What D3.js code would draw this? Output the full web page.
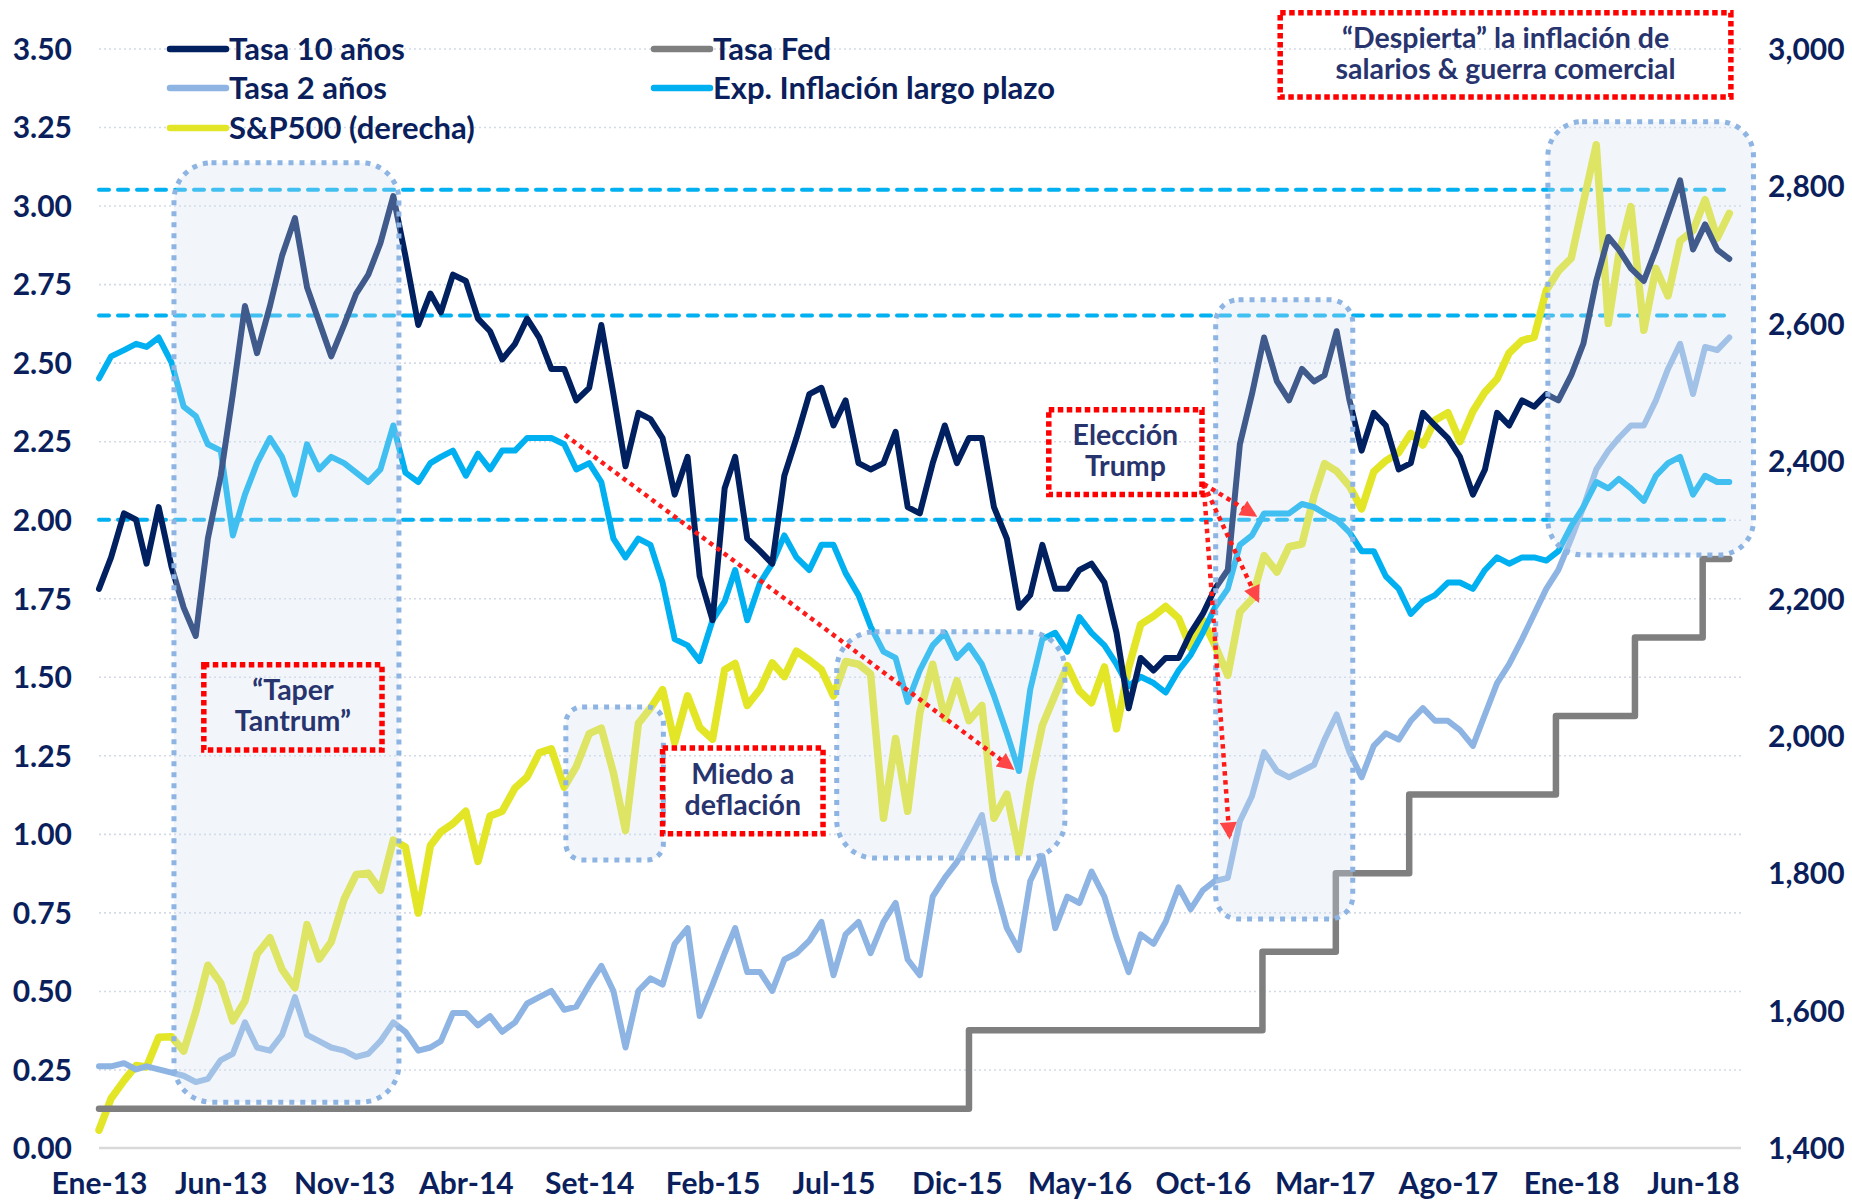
<!DOCTYPE html>
<html>
<head>
<meta charset="utf-8">
<script src="https://cdn.jsdelivr.net/npm/d3@7"></script>
<style>
  body { margin: 0; background: #fff; }
  svg { display: block; font-family: Lato, "Open Sans", sans-serif; }
</style>
</head>
<body>
<svg id="chart" width="1852" height="1202"></svg>
<script>
// sampling dates: 1st and 16th of every month, Jan-2013 .. Jul-2018
const months = d3.timeMonths(new Date(2013, 0, 1), new Date(2018, 7, 1));
const dates = d3.merge(months.map(d => [d, new Date(d.getFullYear(), d.getMonth(), 16)]));

// Tasa 10 años (%)
const tasa10 = [
  1.78,1.88, 2.02,2.00, 1.86,2.04, 1.85,1.72, 1.63,1.94, 2.14,2.40, 2.68,2.53, 2.68,2.84, 2.96,2.74, 2.63,2.52, 2.62,2.72, 2.78,2.88,
  3.03,2.84, 2.62,2.72, 2.66,2.78, 2.76,2.64, 2.60,2.51, 2.56,2.64, 2.58,2.48, 2.48,2.38, 2.42,2.62, 2.40,2.17, 2.34,2.32, 2.26,2.08,
  2.20,1.82, 1.68,2.10, 2.20,1.94, 1.90,1.86, 2.14,2.26, 2.40,2.42, 2.30,2.38, 2.18,2.16, 2.18,2.28, 2.04,2.02, 2.18,2.30, 2.18,2.26,
  2.26,2.04, 1.94,1.72, 1.76,1.92, 1.78,1.78, 1.84,1.86, 1.80,1.64, 1.40,1.56, 1.52,1.56, 1.56,1.64, 1.70,1.78, 1.84,2.24, 2.40,2.58,
  2.44,2.38, 2.48,2.44, 2.46,2.60, 2.38,2.22, 2.34,2.30, 2.16,2.18, 2.34,2.30, 2.26,2.20, 2.08,2.16, 2.34,2.30, 2.38,2.36, 2.40,2.38,
  2.46,2.56, 2.76,2.90, 2.86,2.80, 2.76,2.86, 2.97,3.08, 2.86,2.94, 2.86,2.83
];

// Tasa 2 años (%)
const tasa2 = [
  0.26,0.26, 0.27,0.25, 0.26,0.25, 0.24,0.23, 0.21,0.22, 0.28,0.30, 0.40,0.32, 0.31,0.36, 0.48,0.36, 0.34,0.32, 0.31,0.29, 0.30,0.34,
  0.40,0.37, 0.31,0.32, 0.34,0.43, 0.43,0.39, 0.42,0.37, 0.40,0.46, 0.48,0.50, 0.44,0.45, 0.52,0.58, 0.50,0.32, 0.50,0.54, 0.52,0.65,
  0.70,0.42, 0.52,0.62, 0.70,0.56, 0.56,0.50, 0.60,0.62, 0.66,0.72, 0.55,0.68, 0.72,0.62, 0.72,0.78, 0.60,0.55, 0.80,0.86, 0.91,0.98,
  1.06,0.85, 0.70,0.63, 0.85,0.93, 0.70,0.80, 0.78,0.88, 0.80,0.67, 0.56,0.68, 0.65,0.72, 0.83,0.76, 0.82,0.85, 0.86,1.04, 1.12,1.26,
  1.20,1.18, 1.20,1.22, 1.30,1.38, 1.26,1.18, 1.28,1.32, 1.30,1.36, 1.40,1.36, 1.36,1.33, 1.28,1.38, 1.48,1.54, 1.62,1.70, 1.78,1.84,
  1.94,2.04, 2.16,2.22, 2.26,2.30, 2.30,2.38, 2.48,2.56, 2.40,2.55, 2.54,2.58
];

// Exp. Inflación largo plazo (%)
const inflacion = [
  2.45,2.52, 2.54,2.56, 2.55,2.58, 2.50,2.36, 2.33,2.24, 2.22,1.95, 2.08,2.18, 2.26,2.20, 2.08,2.24, 2.16,2.20, 2.18,2.15, 2.12,2.16,
  2.30,2.15, 2.12,2.18, 2.20,2.22, 2.14,2.21, 2.16,2.22, 2.22,2.26, 2.26,2.26, 2.24,2.16, 2.18,2.12, 1.94,1.88, 1.94,1.92, 1.80,1.62,
  1.60,1.55, 1.68,1.74, 1.84,1.68, 1.80,1.86, 1.95,1.88, 1.84,1.92, 1.92,1.83, 1.76,1.66, 1.58,1.56, 1.42,1.52, 1.60,1.64, 1.56,1.60,
  1.54,1.44, 1.32,1.20, 1.46,1.62, 1.64,1.58, 1.69,1.64, 1.60,1.54, 1.47,1.50, 1.48,1.45, 1.52,1.57, 1.64,1.72, 1.78,1.92, 1.95,2.02,
  2.02,2.02, 2.05,2.04, 2.02,2.00, 1.96,1.90, 1.90,1.82, 1.78,1.70, 1.74,1.76, 1.80,1.80, 1.78,1.84, 1.88,1.86, 1.88,1.88, 1.87,1.90,
  1.98,2.04, 2.12,2.10, 2.13,2.10, 2.06,2.14, 2.18,2.20, 2.08,2.14, 2.12,2.12
];

// S&P500 (eje derecho)
const sp500 = [
  1426,1472, 1498,1520, 1518,1561, 1562,1541, 1598,1666, 1640,1585, 1614,1682, 1706,1660, 1633,1725, 1675,1700, 1762,1798, 1800,1775,
  1848,1838, 1742,1840, 1860,1872, 1890,1817, 1883,1890, 1924,1940, 1975,1981, 1925,1955, 2003,2011, 1946,1862, 2018,2040, 2067,1990,
  2058,2012, 1995,2096, 2105,2044, 2068,2106, 2086,2123, 2110,2096, 2058,2108, 2104,2090, 1880,1996, 1890,2033, 2104,2025, 2080,2022,
  2044,1880, 1915,1829, 1932,2015, 2060,2102, 2065,2048, 2100,2010, 2099,2162, 2174,2188, 2171,2128, 2168,2132, 2088,2180, 2199,2262,
  2238,2275, 2279,2349, 2396,2385, 2363,2330, 2384,2400, 2412,2440, 2423,2459, 2470,2428, 2472,2500, 2519,2557, 2575,2580, 2648,2676,
  2695,2776, 2860,2600, 2700,2770, 2590,2680, 2640,2720, 2735,2780, 2724,2760
];

// Tasa Fed (punto medio del rango objetivo)
const fedDates = ["2013-01-01", "2015-12-16", "2016-12-14", "2017-03-15", "2017-06-14", "2017-12-13", "2018-03-21", "2018-06-13", "2018-07-16"];
const fedValues = [0.125, 0.375, 0.625, 0.875, 1.125, 1.375, 1.625, 1.875, 1.875];

// horizontal reference levels
const refLevels = [3.05, 2.65, 2.00];

// tick labels
const leftTicks = d3.range(0, 3.51, 0.25);
const rightTicks = d3.range(1400, 3001, 200);
const xLabels = ["Ene-13", "Jun-13", "Nov-13", "Abr-14", "Set-14", "Feb-15", "Jul-15", "Dic-15", "May-16", "Oct-16", "Mar-17", "Ago-17", "Ene-18", "Jun-18"];
const xTicks = xLabels.map((d, i) => new Date(2013, i * 5, 1));

const parse = d3.timeParse("%Y-%m-%d");

const svg = d3.select("#chart");
const textColor = "#0a1f5c";
const noteColor = "#28346e";

const plotLeft = 99, plotRight = 1741;
const x = d3.scaleTime().domain([new Date(2013, 0, 1), new Date(2018, 5, 1)]).range([99, 1693]);
const yL = d3.scaleLinear().domain([0, 3.5]).range([1148, 48.5]);
const yR = d3.scaleLinear().domain([1400, 3000]).range([1148, 48.5]);

// gridlines
svg.append("g")
  .attr("transform", `translate(${plotLeft},0)`)
  .call(d3.axisLeft(yL).tickValues(leftTicks.slice(1)).tickSize(-(plotRight - plotLeft)).tickFormat(""))
  .call(g => g.select(".domain").remove())
  .call(g => g.selectAll("line")
    .attr("stroke", "#d3dae6").attr("stroke-width", 1.6).attr("stroke-dasharray", "2,3"));

svg.append("line")
  .attr("x1", plotLeft).attr("x2", plotRight)
  .attr("y1", yL(0)).attr("y2", yL(0))
  .attr("stroke", "#d9d9d9").attr("stroke-width", 2.5);

// dashed reference levels
svg.append("g").selectAll("line")
  .data(refLevels)
  .join("line")
  .attr("x1", x(dates[0])).attr("x2", x(dates[dates.length - 1]) - 5)
  .attr("y1", d => yL(d)).attr("y2", d => yL(d))
  .attr("stroke", "#00b0f0").attr("stroke-width", 4)
  .attr("stroke-dasharray", "10,9").attr("stroke-linecap", "round");

// series
const lineL = d3.line().x((d, i) => x(dates[i])).y(d => yL(d));
const lineR = d3.line().x((d, i) => x(dates[i])).y(d => yR(d));
const lineFed = d3.line().curve(d3.curveStepAfter).x((d, i) => x(parse(fedDates[i]))).y(d => yL(d));

const series = [
  { values: sp500, gen: lineR, color: "#e2e626", width: 7.5 },
  { values: tasa2, gen: lineL, color: "#8db4e2", width: 6 },
  { values: fedValues, gen: lineFed, color: "#7f7f7f", width: 6.5 },
  { values: inflacion, gen: lineL, color: "#00b0f0", width: 6 },
  { values: tasa10, gen: lineL, color: "#002060", width: 6 }
];

svg.append("g").selectAll("path")
  .data(series)
  .join("path")
  .attr("fill", "none")
  .attr("stroke", d => d.color)
  .attr("stroke-width", d => d.width)
  .attr("stroke-linejoin", "round")
  .attr("stroke-linecap", "round")
  .attr("d", d => d.gen(d.values));

// highlighted periods (translucent rounded boxes over the lines)
const highlights = [
  { from: "2013-04-04", to: "2014-01-08", top: 3.136, bottom: 0.146 },
  { from: "2014-08-03", to: "2014-12-02", top: 1.404, bottom: 0.917 },
  { from: "2015-07-05", to: "2016-04-13", top: 1.643, bottom: 0.923 },
  { from: "2016-10-17", to: "2017-04-05", top: 2.700, bottom: 0.729 },
  { from: "2017-12-03", to: "2018-08-15", top: 3.267, bottom: 1.888 }
];

svg.append("g").selectAll("rect")
  .data(highlights)
  .join("rect")
  .each(function (d) {
    const x0 = x(parse(d.from)), x1 = x(parse(d.to));
    const y0 = yL(d.top), y1 = yL(d.bottom);
    const r = Math.min(x1 - x0, y1 - y0) * 0.1667;
    d3.select(this)
      .attr("x", x0).attr("y", y0)
      .attr("width", x1 - x0).attr("height", y1 - y0)
      .attr("rx", r).attr("ry", r);
  })
  .attr("fill", "rgba(213,225,242,0.3)")
  .attr("stroke", "#8db4e2")
  .attr("stroke-width", 5)
  .attr("stroke-dasharray", "5,6");

// arrows
const defs = svg.append("defs");
defs.append("marker")
  .attr("id", "arrowhead")
  .attr("viewBox", "0 0 10 10")
  .attr("refX", 8).attr("refY", 5)
  .attr("markerWidth", 20).attr("markerHeight", 17)
  .attr("markerUnits", "userSpaceOnUse")
  .attr("orient", "auto")
  .append("path")
  .attr("d", "M0,0L10,5L0,10Z")
  .attr("fill", "#ff4545");

const arrows = [
  { from: ["2014-08-02", 2.27], to: ["2016-02-07", 1.21] },
  { from: ["2016-10-02", 2.114], to: ["2016-12-04", 2.015] },
  { from: ["2016-10-02", 2.114], to: ["2016-12-08", 1.745] },
  { from: ["2016-10-02", 2.114], to: ["2016-11-03", 0.993] }
];

svg.append("g").selectAll("line")
  .data(arrows)
  .join("line")
  .attr("x1", d => x(parse(d.from[0]))).attr("y1", d => yL(d.from[1]))
  .attr("x2", d => x(parse(d.to[0]))).attr("y2", d => yL(d.to[1]))
  .attr("stroke", "#ff1a1a").attr("stroke-width", 4.5)
  .attr("stroke-dasharray", "4.5,4.5")
  .attr("marker-end", "url(#arrowhead)");

// annotation boxes
const notes = [
  { from: "2013-05-11", to: "2013-12-18", top: 1.538, bottom: 1.267, lines: ["\u201CTaper", "Tantrum\u201D"] },
  { from: "2014-12-01", to: "2015-06-18", top: 1.273, bottom: 1.000, lines: ["Miedo a", "deflación"] },
  { from: "2016-03-24", to: "2016-09-30", top: 2.350, bottom: 2.080, lines: ["Elección", "Trump"] },
  { from: "2017-01-05", to: "2018-07-18", top: 3.614, bottom: 3.346, lines: ["\u201CDespierta\u201D la inflación de", "salarios & guerra comercial"] }
];

const noteG = svg.append("g").selectAll("g")
  .data(notes)
  .join("g");

noteG.append("rect")
  .attr("x", d => x(parse(d.from)))
  .attr("y", d => yL(d.top))
  .attr("width", d => x(parse(d.to)) - x(parse(d.from)))
  .attr("height", d => yL(d.bottom) - yL(d.top))
  .attr("fill", "none")
  .attr("stroke", "#ff0000")
  .attr("stroke-width", 5.5)
  .attr("stroke-dasharray", "5.5,3.5");

noteG.append("text")
  .attr("text-anchor", "middle")
  .attr("fill", noteColor)
  .attr("font-size", 28.5)
  .attr("font-weight", 700)
  .each(function (d) {
    const cx = (x(parse(d.from)) + x(parse(d.to))) / 2;
    const cy = (yL(d.top) + yL(d.bottom)) / 2;
    d3.select(this).selectAll("tspan")
      .data(d.lines)
      .join("tspan")
      .attr("x", cx)
      .attr("y", (t, i) => cy - 7 + i * 31)
      .text(t => t);
  });

// axes
const styleAxis = g => {
  g.select(".domain").remove();
  g.attr("font-family", null).attr("font-size", null);
  g.selectAll("text")
    .attr("fill", textColor)
    .style("font-size", "30px")
    .style("font-weight", "700");
};

svg.append("g")
  .attr("transform", "translate(72,0)")
  .call(d3.axisLeft(yL).tickValues(leftTicks).tickFormat(d3.format(".2f")).tickSize(0).tickPadding(0))
  .call(styleAxis)
  .call(g => g.selectAll("text").attr("dy", "0.36em"));

svg.append("g")
  .attr("transform", "translate(1768,0)")
  .call(d3.axisRight(yR).tickValues(rightTicks).tickFormat(d3.format(",")).tickSize(0).tickPadding(0))
  .call(styleAxis)
  .call(g => g.selectAll("text").attr("dy", "0.36em"));

svg.append("g")
  .attr("transform", "translate(0,1173)")
  .call(d3.axisBottom(x).tickValues(xTicks).tickFormat((d, i) => xLabels[i]).tickSize(0).tickPadding(0))
  .call(styleAxis);

// legend
const legend = [
  { name: "Tasa 10 años", color: "#002060", lx: 170, ly: 49 },
  { name: "Tasa 2 años", color: "#8db4e2", lx: 170, ly: 88 },
  { name: "S&P500 (derecha)", color: "#e2e626", lx: 170, ly: 128 },
  { name: "Tasa Fed", color: "#7f7f7f", lx: 654, ly: 49 },
  { name: "Exp. Inflación largo plazo", color: "#00b0f0", lx: 654, ly: 88 }
];

const legG = svg.append("g").selectAll("g")
  .data(legend)
  .join("g")
  .attr("transform", d => `translate(${d.lx},${d.ly})`);

legG.append("line")
  .attr("x1", 0).attr("x2", 56)
  .attr("stroke", d => d.color)
  .attr("stroke-width", 6.5)
  .attr("stroke-linecap", "round");

legG.append("text")
  .attr("x", 59).attr("y", 10.5)
  .attr("fill", textColor)
  .attr("font-size", 31)
  .attr("font-weight", 700)
  .text(d => d.name);
</script>
</body>
</html>
